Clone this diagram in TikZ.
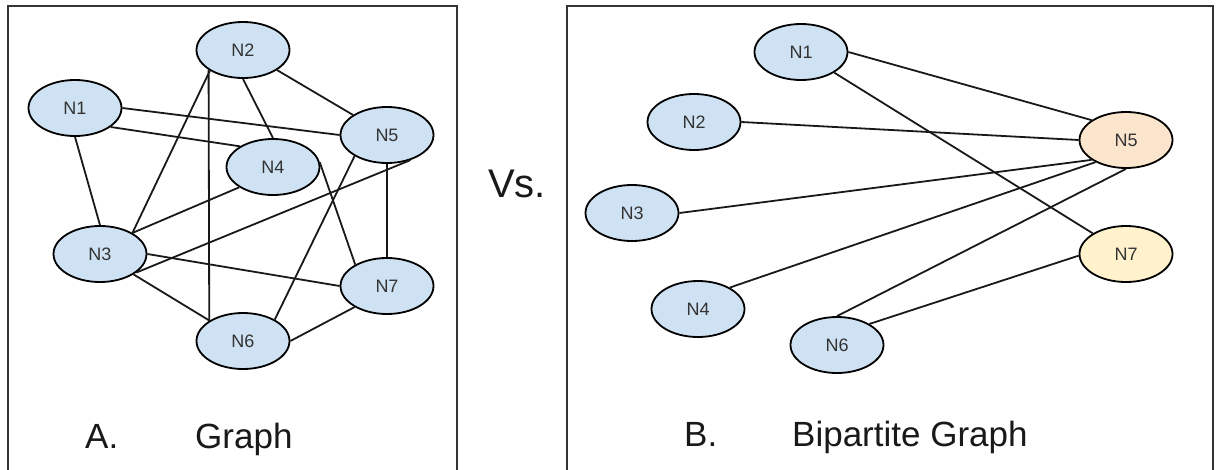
\documentclass[tikz,border=0pt]{standalone}
\usepackage{fontspec}
\setmainfont{Liberation Sans}
\usetikzlibrary{shapes.geometric}
\definecolor{nblue}{HTML}{CFE2F3}
\definecolor{norange}{HTML}{FCE5CD}
\definecolor{nyellow}{HTML}{FFF2CC}
\definecolor{ntext}{HTML}{333333}
\definecolor{frame}{HTML}{333333}
\tikzset{
  gnode/.style={ellipse, draw=black, line width=1.8pt, fill=nblue, minimum width=93pt, minimum height=56pt, inner sep=0pt, text=ntext, font=\fontsize{18}{20}\selectfont},
  edge/.style={line width=1.8pt, draw=black!90},
  panel/.style={line width=2pt, draw=frame},
  caption/.style={anchor=base west, inner sep=0pt, font=\fontsize{35}{40}\selectfont, text=black!90}
}
\begin{document}
\begin{tikzpicture}[x=1pt, y=-1pt]
\useasboundingbox (0,0) rectangle (1220,469);
% panels
\draw[panel] (8,470) -- (8,6) -- (457,6) -- (457,470);
\draw[panel] (567,470) -- (567,6) -- (1213,6) -- (1213,470);
% left graph
\node[gnode] (a1) at (75,108) {N1};
\node[gnode] (a2) at (243,50) {N2};
\node[gnode] (a3) at (100,254) {N3};
\node[gnode] (a4) at (273,167) {N4};
\node[gnode] (a5) at (387,135) {N5};
\node[gnode] (a6) at (243,341) {N6};
\node[gnode] (a7) at (387,286) {N7};
\draw[edge] (a1.south) -- (a3.north);
\draw[edge] (a1.east) -- (a5.west);
\draw[edge] (a1.332) -- (a4.148);
\draw[edge] (a2.south) -- (a4.north);
\draw[edge] (a2) -- (a5);
\draw[edge] (a2.212) -- (a3.33);
\draw[edge] (a2.210.7) -- (a6.149.3);
\draw[edge] (a3.33) -- (a4.211);
\draw[edge] (a3.333) -- (a5.313);
\draw[edge] (a3.east) -- (a7.west);
\draw[edge] (a3) -- (a6);
\draw[edge] (a4.6) -- (a7.146);
\draw[edge] (a5.213) -- (a6.34);
\draw[edge] (a5.south) -- (a7.north);
\draw[edge] (a6.east) -- (a7.213);
% right graph
\node[gnode] (b1) at (801,52) {N1};
\node[gnode] (b2) at (694,122) {N2};
\node[gnode] (b3) at (632,213) {N3};
\node[gnode] (b4) at (698,309) {N4};
\node[gnode, fill=norange] (b5) at (1126,140) {N5};
\node[gnode] (b6) at (837,345) {N6};
\node[gnode, fill=nyellow] (b7) at (1126,254) {N7};
\draw[edge] (b1.east) -- (b5.150);
\draw[edge] (b1) -- (b7);
\draw[edge] (b2.east) -- (b5.west);
\draw[edge] (b3.east) -- (b5.210);
\draw[edge] (b4.34) -- (b5.216);
\draw[edge] (b5.south) -- (b6.north);
\draw[edge] (b6.33) -- (b7.182);
% captions
\node[caption] (capA) at (85,448) {A.};
\node[caption] (capAt) at (195,448) {Graph};
\node[caption] (capB) at (684,446) {B.};
\node[caption] (capBt) at (792,446) {Bipartite Graph};
\node[caption, font=\fontsize{40}{46}\selectfont] (vs) at (488,197) {Vs.};
\end{tikzpicture}
\end{document}
